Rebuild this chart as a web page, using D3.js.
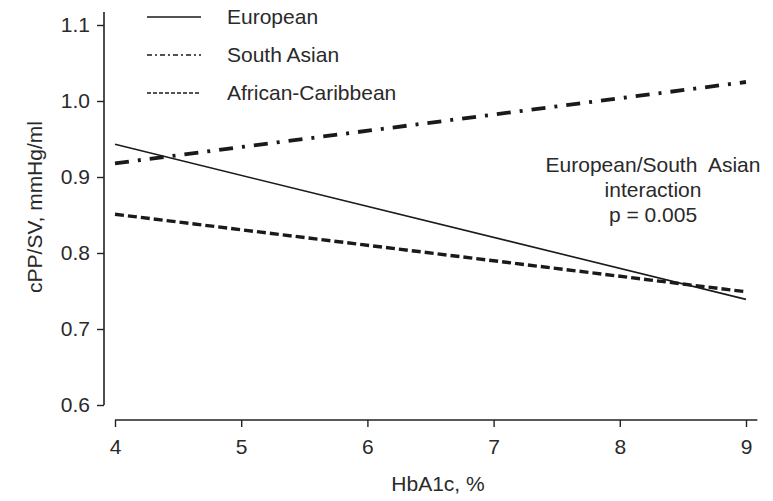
<!DOCTYPE html>
<html>
<head>
<meta charset="utf-8">
<script src="https://cdn.jsdelivr.net/npm/d3@7"></script>
<style>
  body { margin: 0; background: #fff; }
  text { font-family: "Liberation Sans", Arial, sans-serif; fill: #2a2a2a; }
</style>
</head>
<body>
<div id="chart"></div>
<script>
// Data

var hba1c = [4, 9];
var groups = ['European', 'South Asian', 'African-Caribbean'];
var european = [0.943, 0.739];
var southAsian = [0.918, 1.025];
var africanCaribbean = [0.851, 0.749];
var xTicks = [4, 5, 6, 7, 8, 9];
var yTicks = [0.6, 0.7, 0.8, 0.9, 1.0, 1.1];
var note = ['European/South  Asian', 'interaction', 'p = 0.005'];

// Dimensions

var width = 773;
var height = 501;
var fontSize = '21px';

var x = d3.scaleLinear().domain([4, 9]).range([115, 746]);
var y = d3.scaleLinear().domain([0.6, 1.1]).range([405, 25]);

var styles = [
  { width: 1.6, dash: null, legendDash: null },
  { width: 3.8, dash: '14,9,3,9', legendDash: '5,3,2,3' },
  { width: 3.4, dash: '9,4', legendDash: '4,2' }
];

var svg = d3.select('#chart').append('svg')
    .attr('width', width)
    .attr('height', height);

// Axes

var yAxis = svg.append('g')
    .attr('transform', 'translate(104,0)')
    .call(d3.axisLeft(y).tickValues(yTicks).tickSize(7).tickPadding(7)
      .tickFormat(d3.format('.1f')));

yAxis.select('.domain').remove();
yAxis.append('line')
    .attr('y1', y(1.117)).attr('y2', y(0.6))
    .attr('stroke', '#222').attr('stroke-width', 1.6);

var xAxis = svg.append('g')
    .attr('transform', 'translate(0,420)')
    .call(d3.axisBottom(x).tickValues(xTicks).tickSize(7).tickPadding(12)
      .tickFormat(d3.format('d')));

xAxis.select('.domain').remove();
xAxis.append('line')
    .attr('x1', x(4)).attr('x2', x(9.09))
    .attr('stroke', '#222').attr('stroke-width', 1.6);

svg.selectAll('.tick line').attr('stroke', '#222').attr('stroke-width', 1.4);
svg.selectAll('.tick text')
    .style('font-size', fontSize)
    .attr('fill', '#2a2a2a');

svg.append('text')
    .attr('x', 438).attr('y', 491)
    .attr('text-anchor', 'middle')
    .style('font-size', fontSize)
    .text('HbA1c, %');

svg.append('text')
    .attr('transform', 'translate(42,207) rotate(-90)')
    .attr('text-anchor', 'middle')
    .style('font-size', fontSize)
    .text('cPP/SV, mmHg/ml');

// Lines

var series = [european, southAsian, africanCaribbean];

var line = d3.line()
    .x(function(d, i) { return x(hba1c[i]); })
    .y(function(d) { return y(d); });

svg.selectAll('path.series')
    .data(series)
    .enter()
    .append('path')
    .attr('class', 'series')
    .attr('d', line)
    .attr('fill', 'none')
    .attr('stroke', '#1a1a1a')
    .attr('stroke-width', function(d, i) { return styles[i].width; })
    .attr('stroke-dasharray', function(d, i) { return styles[i].dash; });

// Legend

var legend = svg.selectAll('g.legend')
    .data(groups)
    .enter()
    .append('g')
    .attr('class', 'legend')
    .attr('transform', function(d, i) { return 'translate(147,' + (17 + i * 38) + ')'; });

legend.append('line')
    .attr('x1', 0).attr('x2', 54)
    .attr('stroke', '#1a1a1a')
    .attr('stroke-width', 1.3)
    .attr('stroke-dasharray', function(d, i) { return styles[i].legendDash; });

legend.append('text')
    .attr('x', 80).attr('dy', '0.35em')
    .style('font-size', fontSize)
    .text(function(d) { return d; });

// Annotation

svg.append('g').selectAll('text')
    .data(note)
    .enter()
    .append('text')
    .attr('x', 653)
    .attr('y', function(d, i) { return 172 + i * 25; })
    .attr('text-anchor', 'middle')
    .style('font-size', fontSize)
    .style('white-space', 'pre')
    .text(function(d) { return d; });
</script>
</body>
</html>
